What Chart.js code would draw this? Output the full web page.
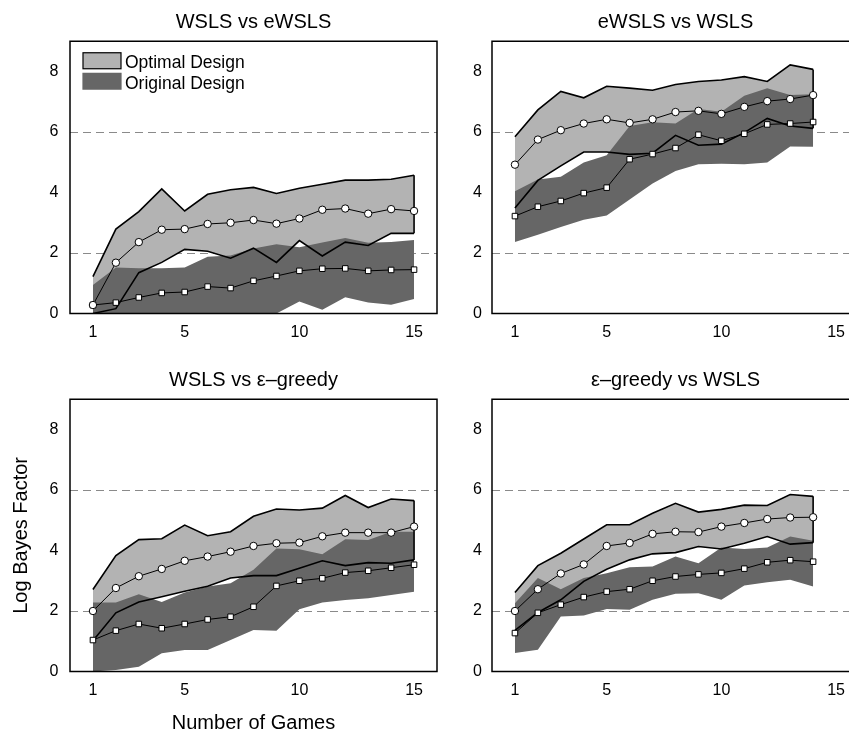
<!DOCTYPE html>
<html>
<head>
<meta charset="utf-8">
<script src="https://cdn.jsdelivr.net/npm/chart.js@4/dist/chart.umd.min.js"></script>
<style>
  html, body { margin: 0; padding: 0; background: #fff; }
  body { position: relative; width: 849px; height: 735px; overflow: hidden; }
</style>
</head>
<body>
<script>
const FONT = '"Liberation Sans", Arial, Helvetica, sans-serif';
const LIGHT = "#b3b3b3";
const DARK = "#666666";
const DASH_GRAY = "#8a8a8a";

const titles = ["WSLS vs eWSLS", "eWSLS vs WSLS", "WSLS vs \u03b5\u2013greedy", "\u03b5\u2013greedy vs WSLS"];
const legendLabels = ["Optimal Design", "Original Design"];
const xTitle = "Number of Games";
const yTitle = "Log Bayes Factor";
const xTicks = [1, 5, 10, 15];
const yTicks = [0, 2, 4, 6, 8];
const dashedAt = [2, 6];

const games15 = [1, 2, 3, 4, 5, 6, 7, 8, 9, 10, 11, 12, 13, 14, 15];
const games14 = [1, 2, 3, 4, 5, 6, 7, 8, 9, 10, 11, 12, 13, 14];

// WSLS vs eWSLS
const optHiA = [1.22, 2.79, 3.37, 4.12, 3.39, 3.94, 4.09, 4.17, 3.97, 4.14, 4.27, 4.41, 4.41, 4.44, 4.57];
const optMeanA = [0.28, 1.68, 2.36, 2.77, 2.79, 2.96, 3.0, 3.09, 2.97, 3.14, 3.43, 3.47, 3.3, 3.45, 3.39];
const optLoA = [0.0, 0.16, 1.35, 1.69, 2.12, 2.06, 1.83, 2.16, 1.69, 2.41, 1.9, 2.36, 2.25, 2.65, 2.65];
const origHiA = [0.94, 1.52, 1.5, 1.5, 1.52, 1.88, 1.92, 2.15, 2.29, 2.19, 2.35, 2.5, 2.34, 2.36, 2.43];
const origMeanA = [0.28, 0.36, 0.53, 0.68, 0.71, 0.89, 0.84, 1.08, 1.24, 1.41, 1.48, 1.49, 1.41, 1.44, 1.45];
const origLoA = [0, 0, 0, 0, 0, 0, 0.02, 0, 0, 0.4, 0.12, 0.54, 0.36, 0.29, 0.48];

// eWSLS vs WSLS
const optHiB = [5.84, 6.73, 7.34, 7.13, 7.51, 7.45, 7.38, 7.57, 7.67, 7.72, 7.83, 7.67, 8.22, 8.07];
const optMeanB = [4.92, 5.75, 6.06, 6.28, 6.42, 6.3, 6.42, 6.66, 6.7, 6.6, 6.83, 7.02, 7.09, 7.22];
const optLoB = [3.49, 4.4, 4.88, 5.34, 5.34, 5.26, 5.3, 5.89, 5.56, 5.6, 5.98, 6.45, 6.2, 6.12];
const origHiB = [4.04, 4.43, 4.52, 4.99, 5.23, 6.2, 6.32, 6.28, 6.76, 6.67, 7.2, 7.45, 7.22, 7.25];
const origMeanB = [3.22, 3.53, 3.72, 3.98, 4.16, 5.1, 5.27, 5.47, 5.91, 5.71, 5.94, 6.25, 6.28, 6.33];
const origLoB = [2.36, 2.6, 2.86, 3.1, 3.24, 3.77, 4.3, 4.71, 4.93, 4.95, 4.93, 4.99, 5.52, 5.51];

// WSLS vs e-greedy
const optHiC = [2.71, 3.83, 4.36, 4.39, 4.84, 4.49, 4.62, 5.13, 5.37, 5.34, 5.4, 5.82, 5.42, 5.7, 5.65];
const optMeanC = [2.0, 2.76, 3.15, 3.39, 3.66, 3.8, 3.96, 4.15, 4.24, 4.26, 4.47, 4.59, 4.59, 4.59, 4.79];
const optLoC = [1.02, 1.94, 2.3, 2.47, 2.65, 2.82, 3.09, 3.17, 3.17, 3.41, 3.66, 3.5, 3.6, 3.58, 3.69];
const origHiC = [2.28, 2.28, 2.55, 2.3, 2.61, 2.81, 2.92, 3.36, 4.07, 4.04, 3.88, 4.37, 4.35, 4.62, 4.62];
const origMeanC = [1.04, 1.35, 1.57, 1.43, 1.57, 1.72, 1.81, 2.14, 2.83, 3.0, 3.08, 3.27, 3.33, 3.43, 3.53];
const origLoC = [0.0, 0.05, 0.16, 0.6, 0.71, 0.71, 1.04, 1.37, 1.35, 2.06, 2.28, 2.36, 2.42, 2.53, 2.64];

// e-greedy vs WSLS
const optHiD = [2.61, 3.5, 3.91, 4.38, 4.85, 4.85, 5.23, 5.56, 5.27, 5.36, 5.5, 5.49, 5.85, 5.79];
const optMeanD = [2.0, 2.72, 3.24, 3.54, 4.15, 4.25, 4.55, 4.62, 4.61, 4.79, 4.91, 5.04, 5.09, 5.1];
const optLoD = [1.36, 1.95, 2.37, 2.98, 3.38, 3.69, 3.89, 3.93, 4.13, 4.05, 4.24, 4.46, 4.21, 4.26];
const origHiD = [2.26, 3.09, 2.72, 3.09, 3.25, 3.45, 3.47, 3.8, 3.58, 4.1, 4.05, 4.1, 4.46, 4.32];
const origMeanD = [1.27, 1.94, 2.21, 2.46, 2.64, 2.72, 3.0, 3.14, 3.21, 3.26, 3.4, 3.61, 3.68, 3.63];
const origLoD = [0.61, 0.72, 1.82, 1.85, 2.07, 2.04, 2.37, 2.57, 2.59, 2.37, 2.84, 2.95, 3.03, 2.81];

const panels = [
  { title: titles[0], games: games15, optHi: optHiA, optMean: optMeanA, optLo: optLoA,
    origHi: origHiA, origMean: origMeanA, origLo: origLoA,
    left: 0, top: 0, width: 446, height: 360, yAxisW: 70, tickPad: 11.5, legend: true },
  { title: titles[1], games: games14, optHi: optHiB, optMean: optMeanB, optLo: optLoB,
    origHi: origHiB, origMean: origMeanB, origLo: origLoB,
    left: 429, top: 0, width: 439, height: 360, yAxisW: 63, tickPad: 10 },
  { title: titles[2], games: games15, optHi: optHiC, optMean: optMeanC, optLo: optLoC,
    origHi: origHiC, origMean: origMeanC, origLo: origLoC,
    left: 0, top: 358, width: 446, height: 377, yAxisW: 70, tickPad: 11.5, xTitle: true, yTitle: true },
  { title: titles[3], games: games14, optHi: optHiD, optMean: optMeanD, optLo: optLoD,
    origHi: origHiD, origMean: origMeanD, origLo: origLoD,
    left: 429, top: 358, width: 439, height: 377, yAxisW: 63, tickPad: 10 },
];

const AREA_TOP = 41.25;
const AREA_BOTTOM = 313.5;

const panelDecor = {
  id: "panelDecor",
  afterDraw(chart, args, opts) {
    const { ctx, chartArea: a } = chart;
    ctx.save();
    ctx.strokeStyle = "#000";
    ctx.lineWidth = 1.5;
    ctx.strokeRect(a.left, a.top, a.right - a.left, a.bottom - a.top);

    ctx.fillStyle = "#000";
    ctx.font = `20px ${FONT}`;
    ctx.textAlign = "center";
    ctx.textBaseline = "alphabetic";
    ctx.fillText(opts.title, (a.left + a.right) / 2, a.top - 13.5);

    if (opts.legend) {
      const bx = a.left + 13;
      const bw = 38;
      ctx.fillStyle = LIGHT;
      ctx.fillRect(bx, a.top + 11.5, bw, 16);
      ctx.lineWidth = 1.2;
      ctx.strokeRect(bx, a.top + 11.5, bw, 16);
      ctx.fillStyle = DARK;
      ctx.fillRect(bx - 0.6, a.top + 31.5, bw + 1.2, 17);
      ctx.fillStyle = "#000";
      ctx.font = `17.5px ${FONT}`;
      ctx.textAlign = "left";
      ctx.fillText(legendLabels[0], a.left + 55, a.top + 27);
      ctx.fillText(legendLabels[1], a.left + 55, a.top + 48);
    }
    ctx.restore();
  },
};

function points(games, ys) {
  return ys.map((y, i) => ({ x: games[i], y }));
}

function buildDatasets(p) {
  const last = p.games.length - 1;
  const none = "rgba(0,0,0,0)";
  return [
    {
      label: "optMean", data: points(p.games, p.optMean), fill: false,
      borderColor: "#000", borderWidth: 1, pointStyle: "circle", pointRadius: 3.7,
      pointBackgroundColor: "#fff", pointBorderColor: "#000", pointBorderWidth: 1,
    },
    {
      label: "origMean", data: points(p.games, p.origMean), fill: false,
      borderColor: "#000", borderWidth: 1, pointStyle: "rect", pointRadius: 3.9,
      pointBackgroundColor: "#fff", pointBorderColor: "#000", pointBorderWidth: 1,
    },
    {
      label: "origHi", data: points(p.games, p.origHi), fill: "+1",
      backgroundColor: DARK, borderColor: none, borderWidth: 0, pointRadius: 0,
    },
    {
      label: "origLo", data: points(p.games, p.origLo), fill: false,
      borderColor: none, borderWidth: 0, pointRadius: 0,
    },
    {
      label: "optHi", data: points(p.games, p.optHi), fill: "+1",
      backgroundColor: LIGHT, borderColor: "#000", borderWidth: 1.6, pointRadius: 0,
    },
    {
      label: "optLo", data: points(p.games, p.optLo), fill: false,
      borderColor: "#000", borderWidth: 1.6, pointRadius: 0,
    },
    {
      label: "optEdge",
      data: [{ x: p.games[last], y: p.optHi[last] }, { x: p.games[last], y: p.optLo[last] }],
      fill: false, borderColor: "#000", borderWidth: 1.6, pointRadius: 0,
    },
  ];
}

function buildChart(p) {
  const canvas = document.createElement("canvas");
  canvas.width = p.width;
  canvas.height = p.height;
  canvas.style.cssText = `position:absolute;left:${p.left}px;top:${p.top}px;width:${p.width}px;height:${p.height}px;`;
  document.body.appendChild(canvas);

  const xAxisH = p.height - AREA_BOTTOM;

  return new Chart(canvas, {
    type: "line",
    data: { datasets: buildDatasets(p) },
    plugins: [panelDecor],
    options: {
      responsive: false,
      devicePixelRatio: 1,
      animation: false,
      events: [],
      layout: { padding: { top: AREA_TOP, right: 9, bottom: 0, left: 0 } },
      elements: { line: { tension: 0 } },
      scales: {
        x: {
          type: "linear",
          min: 0,
          max: 16,
          afterBuildTicks: (scale) => { scale.ticks = xTicks.map((v) => ({ value: v })); },
          afterFit: (scale) => { scale.height = xAxisH; },
          grid: { display: false, drawTicks: false },
          border: { display: false },
          ticks: {
            padding: 9.6, color: "#000", autoSkip: false, maxRotation: 0,
            font: { family: FONT, size: 16 },
          },
          title: {
            display: !!p.xTitle, text: xTitle, color: "#000",
            font: { family: FONT, size: 20 }, padding: { top: 0, bottom: 0 },
          },
        },
        y: {
          type: "linear",
          min: 0,
          max: 9,
          afterBuildTicks: (scale) => { scale.ticks = yTicks.map((v) => ({ value: v })); },
          afterFit: (scale) => { scale.width = p.yAxisW; },
          grid: {
            drawTicks: false,
            lineWidth: 1,
            color: (c) => (c.tick && dashedAt.includes(c.tick.value) ? DASH_GRAY : "rgba(0,0,0,0)"),
          },
          border: { display: false, dash: [8, 5] },
          ticks: {
            padding: p.tickPad, color: "#000",
            font: { family: FONT, size: 16 },
          },
          title: {
            display: !!p.yTitle, text: yTitle, color: "#000",
            font: { family: FONT, size: 20 }, padding: { top: 9, bottom: 0 },
          },
        },
      },
      plugins: {
        legend: { display: false },
        tooltip: { enabled: false },
        filler: { drawTime: "beforeDatasetsDraw" },
        panelDecor: { title: p.title, legend: !!p.legend },
      },
    },
  });
}

panels.forEach(buildChart);
</script>
</body>
</html>
